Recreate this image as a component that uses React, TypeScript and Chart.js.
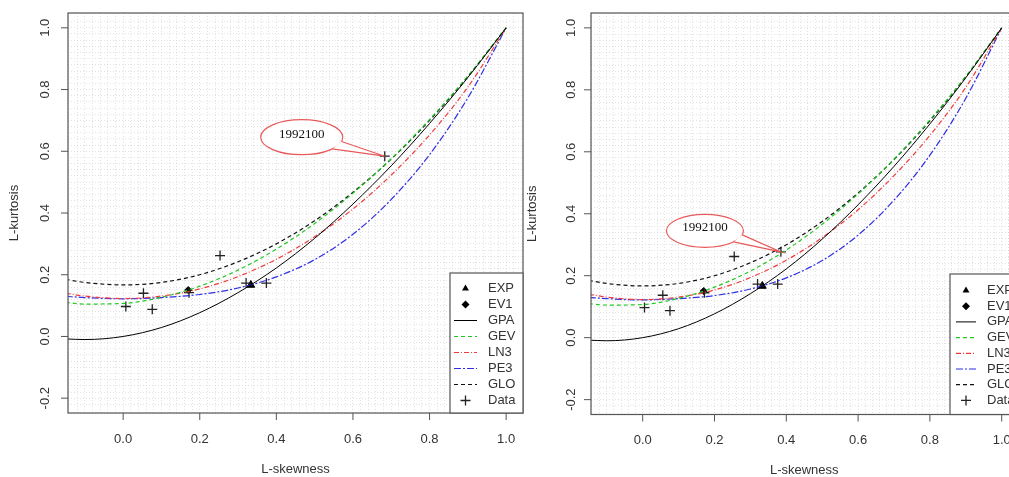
import React, { useEffect, useRef } from 'react';
import { Chart, registerables } from 'chart.js';
Chart.register(...registerables);

// ---------- data ----------
const curveSkew = [-0.15, -0.1, 0, 0.1, 0.2, 0.3, 0.4, 0.5, 0.6, 0.7, 0.8, 0.9, 1.0];
const gpaKurt = [-0.008, -0.010, 0.0, 0.029, 0.077, 0.142, 0.222, 0.318, 0.429, 0.553, 0.690, 0.839, 1.0];
const gevKurt = [0.110, 0.105, 0.107, 0.127, 0.163, 0.215, 0.283, 0.366, 0.464, 0.576, 0.703, 0.844, 1.0];
const ln3Kurt = [0.140, 0.131, 0.123, 0.131, 0.154, 0.194, 0.250, 0.323, 0.413, 0.523, 0.653, 0.808, 1.0];
const pe3Kurt = [0.130, 0.126, 0.122, 0.126, 0.136, 0.157, 0.193, 0.249, 0.331, 0.444, 0.589, 0.773, 1.0];
const gloKurt = [0.185, 0.175, 0.167, 0.175, 0.200, 0.242, 0.300, 0.375, 0.467, 0.575, 0.700, 0.842, 1.0];

const expSkew = [0.3333];
const expKurt = [0.1667];
const ev1Skew = [0.1699];
const ev1Kurt = [0.1504];

const leftDataSkew = [0.007, 0.053, 0.076, 0.172, 0.253, 0.321, 0.374, 0.683];
const leftDataKurt = [0.097, 0.140, 0.088, 0.142, 0.262, 0.173, 0.173, 0.584];
const rightDataSkew = [0.005, 0.056, 0.076, 0.172, 0.255, 0.320, 0.376, 0.385];
const rightDataKurt = [0.097, 0.137, 0.087, 0.145, 0.262, 0.173, 0.173, 0.277];

const calloutLabel = '1992100';

const xTickValues = [0, 0.2, 0.4, 0.6, 0.8, 1.0];
const xTickLabels = ['0.0', '0.2', '0.4', '0.6', '0.8', '1.0'];
const yTickValues = [-0.2, 0, 0.2, 0.4, 0.6, 0.8, 1.0];
const yTickLabels = ['-0.2', '0.0', '0.2', '0.4', '0.6', '0.8', '1.0'];
const legendOrder = ['EXP', 'EV1', 'GPA', 'GEV', 'LN3', 'PE3', 'GLO', 'Data'];
const xTitle = 'L-skewness';
const yTitle = 'L-kurtosis';

const SANS = '"Liberation Sans", Arial, sans-serif';
const SERIF = '"Liberation Serif", "Times New Roman", serif';

const xy = (xs: number[], ys: number[]) => xs.map((x, i) => ({ x, y: ys[i] }));

type Spec = {
  left: number; w: number;
  pad: { left: number; top: number; right: number; bottom: number };
  dataSkew: number[]; dataKurt: number[];
  yLabOff: number; xLabOff: number; yTitleX: number; xTitleOff: number;
  boxX: number; boxTop: number; lx0: number; lx1: number; tx: number; row0: number; rowStep: number;
  cdx: number; cdy: number; rx: number; ry: number; t1: number; t2: number;
};

const leftSpec: Spec = {
  left: 0, w: 531,
  pad: { left: 68, top: 13, right: 8, bottom: 64 },
  dataSkew: leftDataSkew, dataKurt: leftDataKurt,
  yLabOff: 23, xLabOff: 26, yTitleX: 14, xTitleOff: 56,
  boxX: 450, boxTop: 273, lx0: 454, lx1: 477, tx: 488, row0: 288.5, rowStep: 16,
  cdx: -83, cdy: -19, rx: 41, ry: 17.5, t1: 14, t2: 42,
};
const rightSpec: Spec = {
  left: 525, w: 500,
  pad: { left: 66, top: 13, right: 7.5, bottom: 62.5 },
  dataSkew: rightDataSkew, dataKurt: rightDataKurt,
  yLabOff: 20, xLabOff: 26, yTitleX: 7, xTitleOff: 56,
  boxX: 425, boxTop: 274, lx0: 431, lx1: 451, tx: 462, row0: 290.5, rowStep: 15.7,
  cdx: -76, cdy: -21, rx: 38.5, ry: 16.5, t1: 14, t2: 42,
};

function drawMarker(ctx: CanvasRenderingContext2D, style: string, x: number, y: number, r: number) {
  ctx.beginPath();
  if (style === 'triangle') {
    ctx.moveTo(x, y - r);
    ctx.lineTo(x - r * 0.866, y + r * 0.5);
    ctx.lineTo(x + r * 0.866, y + r * 0.5);
    ctx.closePath();
    ctx.fillStyle = '#000';
    ctx.fill();
  } else if (style === 'rectRot') {
    ctx.moveTo(x, y - r);
    ctx.lineTo(x + r, y);
    ctx.lineTo(x, y + r);
    ctx.lineTo(x - r, y);
    ctx.closePath();
    ctx.fillStyle = '#000';
    ctx.fill();
  } else {
    ctx.moveTo(x - r, y);
    ctx.lineTo(x + r, y);
    ctx.moveTo(x, y - r);
    ctx.lineTo(x, y + r);
    ctx.strokeStyle = '#222';
    ctx.lineWidth = 1.3;
    ctx.stroke();
  }
}

function decorPlugin(s: Spec) {
  return {
    id: 'decor',
    afterDatasetsDraw(chart: any) {
      const { ctx, chartArea: a, scales } = chart;
      const x = scales.x, y = scales.y;
      const line = (x0: number, y0: number, x1: number, y1: number) => {
        ctx.beginPath(); ctx.moveTo(x0, y0); ctx.lineTo(x1, y1); ctx.stroke();
      };
      ctx.save();
      // callout on the last data point
      const n = s.dataSkew.length - 1;
      const px = x.getPixelForValue(s.dataSkew[n]);
      const py = y.getPixelForValue(s.dataKurt[n]);
      const cx = px + s.cdx, cy = py + s.cdy;
      const e = (deg: number) => {
        const t = (deg * Math.PI) / 180;
        return [cx + s.rx * Math.cos(t), cy + s.ry * Math.sin(t)];
      };
      ctx.strokeStyle = '#e85a5a';
      ctx.lineWidth = 1.2;
      ctx.fillStyle = '#ffffff';
      ctx.beginPath();
      ctx.ellipse(cx, cy, s.rx, s.ry, 0, 0, Math.PI * 2);
      ctx.fill();
      ctx.stroke();
      const p1 = e(s.t1), p2 = e(s.t2);
      ctx.beginPath();
      ctx.moveTo(p1[0], p1[1]);
      ctx.lineTo(px, py);
      ctx.lineTo(p2[0], p2[1]);
      ctx.closePath();
      ctx.fill();
      ctx.beginPath();
      ctx.moveTo(p1[0], p1[1]);
      ctx.lineTo(px, py);
      ctx.lineTo(p2[0], p2[1]);
      ctx.stroke();
      ctx.fillStyle = '#111';
      ctx.font = `13px ${SERIF}`;
      ctx.textAlign = 'center';
      ctx.textBaseline = 'middle';
      ctx.fillText(calloutLabel, cx, cy - 3);

      // plot box
      ctx.strokeStyle = '#555';
      ctx.lineWidth = 1.2;
      ctx.strokeRect(a.left, a.top, a.right - a.left, a.bottom - a.top);

      // axes
      ctx.fillStyle = '#333';
      ctx.font = `13px ${SANS}`;
      ctx.lineWidth = 1;
      xTickValues.forEach((v, i) => {
        const p = x.getPixelForValue(v);
        line(p, a.bottom, p, a.bottom + 7);
        ctx.fillText(xTickLabels[i], p, a.bottom + s.xLabOff);
      });
      yTickValues.forEach((v, i) => {
        const p = y.getPixelForValue(v);
        line(a.left - 7, p, a.left, p);
        ctx.save();
        ctx.translate(a.left - s.yLabOff, p);
        ctx.rotate(-Math.PI / 2);
        ctx.fillText(yTickLabels[i], 0, 0);
        ctx.restore();
      });
      ctx.fillText(xTitle, (a.left + a.right) / 2, a.bottom + s.xTitleOff);
      ctx.save();
      ctx.translate(s.yTitleX, (a.top + a.bottom) / 2);
      ctx.rotate(-Math.PI / 2);
      ctx.fillText(yTitle, 0, 0);
      ctx.restore();

      // legend
      ctx.fillStyle = '#fff';
      ctx.fillRect(s.boxX, s.boxTop, a.right - s.boxX, a.bottom - s.boxTop);
      ctx.strokeStyle = '#555';
      ctx.lineWidth = 1.2;
      ctx.strokeRect(s.boxX, s.boxTop, a.right - s.boxX, a.bottom - s.boxTop);
      legendOrder.forEach((lab, i) => {
        const ds = chart.data.datasets.find((d: any) => d.label === lab);
        const ry = s.row0 + i * s.rowStep;
        if (ds.showLine) {
          ctx.save();
          ctx.setLineDash(ds.borderDash || []);
          ctx.strokeStyle = ds.borderColor;
          ctx.lineWidth = ds.borderWidth;
          line(s.lx0, ry, s.lx1, ry);
          ctx.restore();
        } else {
          drawMarker(ctx, ds.pointStyle, (s.lx0 + s.lx1) / 2, ry, ds.pointStyle === 'cross' ? 5 : 4);
        }
        ctx.fillStyle = '#333';
        ctx.font = `13px ${SANS}`;
        ctx.textAlign = 'left';
        ctx.textBaseline = 'middle';
        ctx.fillText(lab, s.tx, ry);
      });
      ctx.restore();
    },
  };
}

function curve(label: string, ys: number[], color: string, dash: number[], width = 1) {
  return {
    label,
    data: xy(curveSkew, ys),
    showLine: true,
    borderColor: color,
    backgroundColor: color,
    borderWidth: width,
    borderDash: dash,
    pointRadius: 0,
    fill: false,
    cubicInterpolationMode: 'monotone',
  };
}

function makeConfig(s: Spec): any {
  const gridCfg = { color: 'rgba(190,190,190,0.45)', lineWidth: 1, drawTicks: false };
  return {
    type: 'scatter',
    data: {
      datasets: [
        curve('GPA', gpaKurt, '#000000', [], 1),
        curve('GEV', gevKurt, '#22c822', [4, 3], 1.2),
        curve('LN3', ln3Kurt, '#f03c3c', [5, 2, 1, 2], 1.2),
        curve('PE3', pe3Kurt, '#2f2fe6', [7, 2, 2, 2], 1.2),
        curve('GLO', gloKurt, '#111111', [4, 3], 1.2),
        {
          label: 'Data', data: xy(s.dataSkew, s.dataKurt), pointStyle: 'cross', pointRadius: 5,
          borderColor: '#222', backgroundColor: '#222', borderWidth: 1.3, showLine: false,
        },
        {
          label: 'EXP', data: xy(expSkew, expKurt), pointStyle: 'triangle', pointRadius: 4.5,
          borderColor: '#000', backgroundColor: '#000', borderWidth: 1, showLine: false,
        },
        {
          label: 'EV1', data: xy(ev1Skew, ev1Kurt), pointStyle: 'rectRot', pointRadius: 3.5,
          borderColor: '#000', backgroundColor: '#000', borderWidth: 1, showLine: false,
        },
      ],
    },
    options: {
      animation: false,
      responsive: false,
      events: [],
      layout: { padding: s.pad },
      plugins: { legend: { display: false }, tooltip: { enabled: false } },
      scales: {
        x: {
          type: 'linear', min: -0.144, max: 1.044,
          ticks: { display: false, stepSize: 0.02 },
          grid: gridCfg,
          border: { display: false, dash: [1, 2] },
        },
        y: {
          type: 'linear', min: -0.248, max: 1.048,
          ticks: { display: false, stepSize: 0.02 },
          grid: gridCfg,
          border: { display: false, dash: [1, 2] },
        },
      },
    },
    plugins: [decorPlugin(s)],
  };
}

function Panel({ spec }: { spec: Spec }) {
  const ref = useRef<HTMLCanvasElement>(null);
  useEffect(() => {
    const chart = new Chart(ref.current as HTMLCanvasElement, makeConfig(spec));
    return () => chart.destroy();
  }, [spec]);
  return (
    <canvas
      ref={ref}
      width={spec.w}
      height={477}
      style={{ position: 'absolute', left: spec.left, top: 0, width: spec.w, height: 477 }}
    />
  );
}

export default function App() {
  return (
    <div style={{ position: 'fixed', left: 0, top: 0, width: 1009, height: 477, overflow: 'hidden', background: '#fff' }}>
      <Panel spec={leftSpec} />
      <Panel spec={rightSpec} />
    </div>
  );
}
